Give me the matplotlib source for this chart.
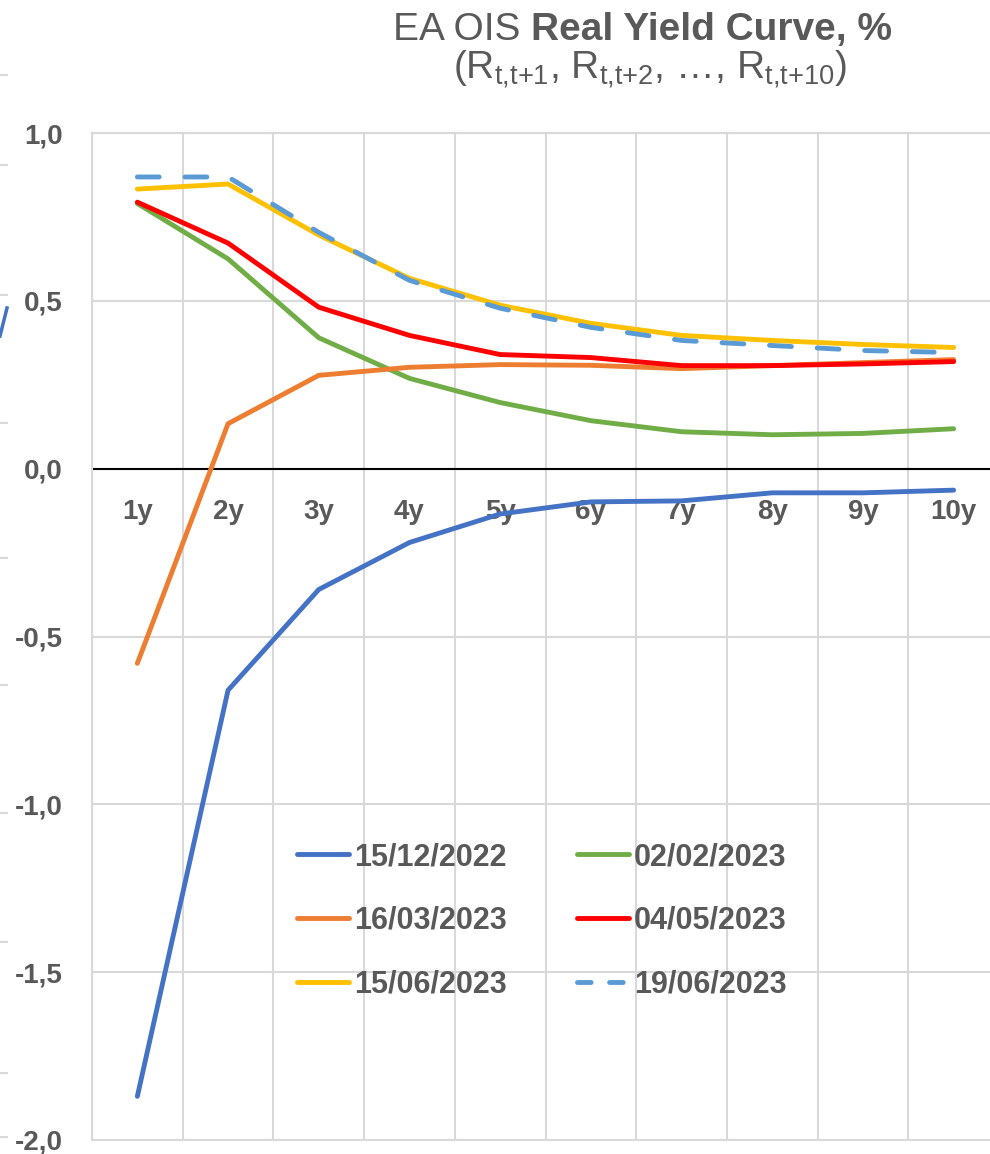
import numpy as np
import matplotlib
matplotlib.use("Agg")
import matplotlib.pyplot as plt
from matplotlib import font_manager
from matplotlib.lines import Line2D

# pick a narrow sans (Calibri look-alike) if there is one
names = {f.name for f in font_manager.fontManager.ttflist}
FONT = "Liberation Sans Narrow" if "Liberation Sans Narrow" in names else "Liberation Sans"
plt.rcParams["font.family"] = [FONT, "DejaVu Sans"]
plt.rcParams["mathtext.fontset"] = "custom"
plt.rcParams["mathtext.rm"] = FONT
plt.rcParams["mathtext.it"] = FONT

GREY = "#595959"
GRID = "#D9D9D9"

# data
tenors = ["1y", "2y", "3y", "4y", "5y", "6y", "7y", "8y", "9y", "10y"]
d_151222 = [-1.87, -0.66, -0.36, -0.22, -0.135, -0.099, -0.096, -0.072, -0.072, -0.064]
d_020223 = [0.79, 0.625, 0.39, 0.269, 0.197, 0.143, 0.110, 0.101, 0.105, 0.119]
d_160323 = [-0.58, 0.134, 0.278, 0.302, 0.310, 0.308, 0.298, 0.307, 0.316, 0.325]
d_040523 = [0.794, 0.672, 0.481, 0.397, 0.340, 0.331, 0.307, 0.307, 0.312, 0.319]
d_150623 = [0.833, 0.848, 0.696, 0.567, 0.487, 0.433, 0.397, 0.382, 0.370, 0.361]
d_190623 = [0.869, 0.869, 0.704, 0.561, 0.478, 0.421, 0.382, 0.367, 0.352, 0.346]

series = [
    ("15/12/2022", d_151222, "#4472C4", "-"),
    ("02/02/2023", d_020223, "#70AD47", "-"),
    ("16/03/2023", d_160323, "#ED7D31", "-"),
    ("04/05/2023", d_040523, "#FF0000", "-"),
    ("15/06/2023", d_150623, "#FFC000", "-"),
    ("19/06/2023", d_190623, "#5B9BD5", (0, (4.5, 5.3))),
]

W, H = 990, 1154
fig = plt.figure(figsize=(W / 100, H / 100), dpi=100)
ax = fig.add_axes([92 / W, 14 / H, 907 / W, 1007 / H])

x = np.arange(len(tenors))
handles = {}
for lab, vals, col, ls in series:
    ax.plot(x, vals, color=col, lw=3.5, ls=ls, solid_capstyle="round",
            dash_capstyle="round", solid_joinstyle="round", zorder=3)
    # legend proxy (the dashed one gets a shorter pattern, like the original)
    hls = ls if ls == "-" else (0, (2.8, 3.8))
    handles[lab] = Line2D([], [], color=col, lw=3.5, ls=hls,
                          solid_capstyle="round", dash_capstyle="round")

ax.set_xlim(-0.5, len(tenors) - 0.5)
ax.set_ylim(-2.0, 1.0)
yt = np.arange(-2.0, 1.01, 0.5)
ax.set_yticks(yt)
ax.set_yticklabels([f"{v:.1f}".replace(".", ",") for v in yt],
                   fontsize=20, fontweight="bold", color=GREY)
ax.tick_params(axis="y", length=0, pad=21)
ax.set_xticks([])
ax.set_xticks(np.arange(-0.5, len(tenors), 1), minor=True)
ax.tick_params(axis="x", which="both", length=0)
ax.grid(axis="y", which="major", color=GRID, lw=1.5, zorder=0)
ax.grid(axis="x", which="minor", color=GRID, lw=1.5, zorder=0)
for s in ax.spines.values():
    s.set_color(GRID)
    s.set_linewidth(1.5)
ax.axhline(0, color="black", lw=1.5, zorder=2)

# category labels sit just under the zero line
for i, t in enumerate(tenors):
    ax.annotate(t, (i, 0), xytext=(0, -31), textcoords="offset points",
                ha="center", va="center", fontsize=20, fontweight="bold",
                color=GREY, zorder=1)

# legend, 2 columns filled column-wise
order = ["15/12/2022", "16/03/2023", "15/06/2023", "02/02/2023", "04/05/2023", "19/06/2023"]
leg = fig.legend([handles[k] for k in order], order, ncol=2, frameon=False,
                 loc="upper left", bbox_to_anchor=(297 / W, 1 - 842 / H),
                 borderaxespad=0, borderpad=0,
                 prop={"weight": "bold", "size": 22},
                 handlelength=1.7, handletextpad=0.16, columnspacing=2.3,
                 labelspacing=1.1, labelcolor=GREY)

# title: regular + bold parts
t1 = fig.text(393 / W, 1 - 40 / H, "EA OIS ", fontsize=28, color=GREY, va="baseline", ha="left")
fig.canvas.draw()
bb = t1.get_window_extent()
fig.text(bb.x1 / W, 1 - 40 / H, "Real Yield Curve, %", fontsize=28, fontweight="bold",
         color=GREY, va="baseline", ha="left")
fig.text(650 / W, 1 - 78 / H,
         r"(R$_{\text{t,t+1}}$, R$_{\text{t,t+2}}$, …, R$_{\text{t,t+10}}$)",
         fontsize=28, color=GREY, va="baseline", ha="center")

# bits of the neighbouring chart peeking in at the left edge
for yp in [75, 165, 295, 423, 558, 685, 813, 942, 1073, 1137]:
    fig.add_artist(Line2D([0, 7 / W], [1 - yp / H] * 2, transform=fig.transFigure,
                          color=GRID, lw=1.5))
fig.add_artist(Line2D([7 / W, 0], [1 - 308 / H, 1 - 336 / H], transform=fig.transFigure,
                      color="#4472C4", lw=2.5))

fig.savefig("out.png", dpi=100)
